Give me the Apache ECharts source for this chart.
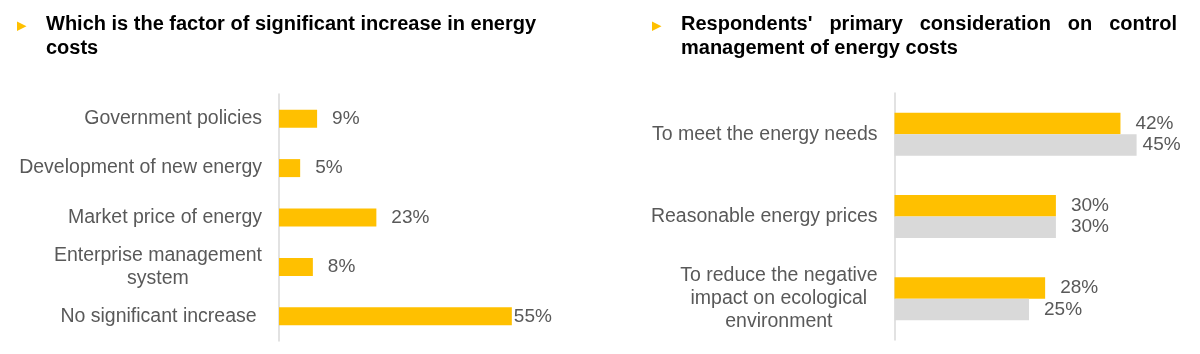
<!DOCTYPE html>
<html>
<head>
<meta charset="utf-8">
<script src="https://cdn.jsdelivr.net/npm/echarts@6/dist/echarts.min.js"></script>
<style>
  html, body { margin: 0; padding: 0; background: #fff; }
  #chart { width: 1200px; height: 354px; }
</style>
</head>
<body>
<div id="chart"></div>
<script>
// titles
var leftTitle = ['Which is the factor of significant increase in energy', 'costs'];
var rightTitle = ["Respondents' primary consideration on control", 'management of energy costs'];

// left chart: factor of increase
var factorCats = ['Government policies', 'Development of new energy', 'Market price of energy',
  'Enterprise management\nsystem', 'No significant increase '];
var factorValues = [9, 5, 23, 8, 55];

// right chart: primary consideration (two series)
var considerCats = ['To meet the energy needs', 'Reasonable energy prices',
  'To reduce the negative\nimpact on ecological\nenvironment'];
var considerA = [42, 30, 28];
var considerB = [45, 30, 25];

var YELLOW = '#FFC000';
var GREY = '#D9D9D9';
var TXT = '#595959';
var FONT = '"Liberation Sans", Arial, sans-serif';

var chart = echarts.init(document.getElementById('chart'), null, {renderer: 'canvas'});

function catLabel(v) {
  return v.split('\n').map(function (s) { return '{c|' + s + '}'; }).join('\n');
}

// label offsets as in the source slide (some labels sit closer to the bar end)
function withLabels(values, near) {
  return values.map(function (v, i) {
    var d = {value: v};
    if (near[i] != null) d.label = {distance: near[i]};
    return d;
  });
}

function measure(txt, font) {
  var ctx = document.createElement('canvas').getContext('2d');
  ctx.font = font;
  return ctx.measureText(txt).width;
}

// justified title line (words spread between x0 and x1)
function justified(line, x0, x1, y) {
  var font = 'bold 20px ' + FONT;
  var words = line.split(' ');
  var widths = words.map(function (w) { return measure(w, font); });
  var total = widths.reduce(function (a, b) { return a + b; }, 0);
  var gap = (x1 - x0 - total) / (words.length - 1);
  var x = x0, out = [];
  words.forEach(function (w, i) {
    out.push(titleText(w, x, y));
    x += widths[i] + gap;
  });
  return out;
}

function titleText(t, x, y) {
  return {
    type: 'text', left: x, top: y,
    style: {text: t, fill: '#000', font: 'bold 20px ' + FONT}
  };
}

function bullet(x, y) {
  return {
    type: 'polygon',
    shape: {points: [[x, y], [x + 9.5, y + 4.75], [x, y + 9.5]]},
    style: {fill: YELLOW}
  };
}

var graphics = [
  bullet(17, 21.5),
  titleText(leftTitle[0], 46, 14.5),
  titleText(leftTitle[1], 46, 38.5),
  bullet(652, 21.5),
  titleText(rightTitle[1], 681, 38.5)
].concat(justified(rightTitle[0], 681, 1177, 14.5));

var catAxisLabel = {
  formatter: catLabel,
  margin: 17,
  align: 'right',
  rich: {c: {align: 'center', fontSize: 19.5, color: TXT, fontFamily: FONT, lineHeight: 23}}
};

var valLabel = {
  show: true, position: 'right', distance: 15,
  formatter: '{c}%', fontSize: 19, color: TXT, fontFamily: FONT
};

chart.setOption({
  backgroundColor: '#fff',
  animation: false,
  graphic: graphics,
  grid: [
    {left: 279, top: 94, width: 254, height: 247},
    {left: 894.5, top: 93, width: 269, height: 247}
  ],
  xAxis: [
    {gridIndex: 0, type: 'value', min: 0, max: 60, show: false},
    {gridIndex: 1, type: 'value', min: 0, max: 50, show: false}
  ],
  yAxis: [
    {
      gridIndex: 0, type: 'category', data: factorCats, inverse: true,
      axisLine: {lineStyle: {color: GREY, width: 1.5}}, axisTick: {show: false},
      axisLabel: catAxisLabel
    },
    {
      gridIndex: 1, type: 'category', data: considerCats, inverse: true,
      axisLine: {lineStyle: {color: GREY, width: 1.5}}, axisTick: {show: false},
      axisLabel: catAxisLabel
    }
  ],
  series: [
    {
      type: 'bar', xAxisIndex: 0, yAxisIndex: 0, barWidth: 18,
      data: withLabels(factorValues, [null, null, null, null, 2]),
      itemStyle: {color: YELLOW}, label: valLabel
    },
    {
      type: 'bar', xAxisIndex: 1, yAxisIndex: 1, barWidth: 21.5, barGap: '0%',
      data: withLabels(considerA, [null, null, null]),
      itemStyle: {color: YELLOW}, label: valLabel
    },
    {
      type: 'bar', xAxisIndex: 1, yAxisIndex: 1, barWidth: 21.5, barGap: '0%',
      data: withLabels(considerB, [6, null, null]),
      itemStyle: {color: GREY}, label: valLabel
    }
  ]
});
</script>
</body>
</html>
